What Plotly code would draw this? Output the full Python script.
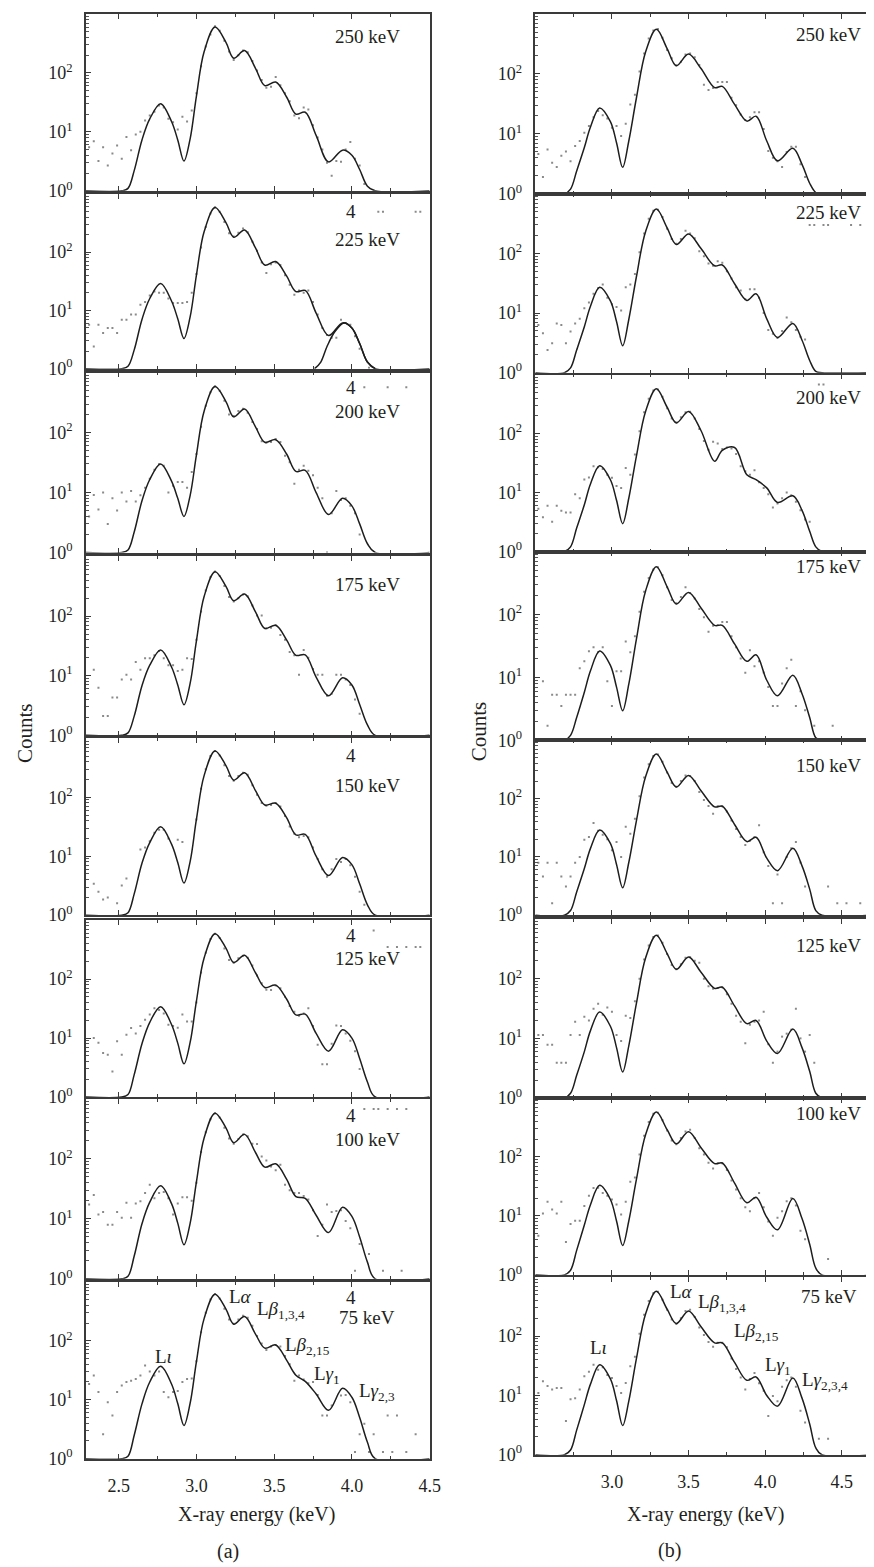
import plotly.graph_objects as go

N = None
W, H = 874, 1567
FONT = "Liberation Serif, Times New Roman, Times, DejaVu Serif, serif"
INK = "#231f20"

ENERGY_LABELS = ["250 keV", "225 keV", "200 keV", "175 keV",
                 "150 keV", "125 keV", "100 keV", "75 keV"]

# ---------------- (a) fitted curve, read at knots (keV, counts) ----------------
FIT_X_A = [2.29, 2.52, 2.56, 2.60, 2.65, 2.70, 2.77, 2.84, 2.88, 2.92, 2.96, 3.00, 3.05, 3.12, 3.19,
           3.24, 3.31, 3.38, 3.44, 3.51, 3.58, 3.64, 3.70, 3.77, 3.85, 3.94, 4.00, 4.05, 4.10, 4.15, 4.50]
fit_a_250 = [1, 1, 1.1, 2.2, 7.3, 16.6, 30, 15, 7.3, 3.2, 7.7, 40, 230, 600, 330,
             178, 240, 120, 61, 70, 39, 20, 21.5, 8.7, 3.1, 4.9, 4.0, 2.3, 1.2, 1, 1]
fit_a_225 = [1, 1, 1.1, 2.1, 7, 16, 29, 14.5, 7.2, 3.3, 7.8, 40, 225, 580, 320,
             180, 240, 118, 60, 69, 39, 21, 22, 9, 3.7, 6.1, 5.0, 2.7, 1.3, 1, 1]
fit_a_200 = [1, 1, 1.1, 2.2, 7.3, 16.5, 30, 15.5, 8, 4.0, 9, 42, 230, 585, 330,
             183, 247, 125, 69, 76, 44, 22.5, 23.5, 10, 4.3, 8.0, 6.0, 3.0, 1.4, 1, 1]
fit_a_175 = [1, 1, 1.1, 2.1, 6.8, 15, 27, 14, 7, 3.25, 7.5, 38, 215, 555, 315,
             181, 234, 118, 62, 70, 40, 22, 22.4, 9.5, 4.6, 9.2, 7.0, 3.3, 1.5, 1, 1]
fit_a_150 = [1, 1, 1.1, 2.3, 7.6, 17, 31.5, 16, 7.8, 3.5, 8.2, 42, 235, 610, 345,
             195, 260, 130, 74, 79, 45, 23, 23.4, 10, 4.7, 9.5, 7.2, 3.4, 1.5, 1, 1]
fit_a_125 = [1, 1, 1.1, 2.4, 8, 18.5, 34, 17, 8.2, 3.65, 8.5, 42, 230, 590, 335,
             191, 253, 128, 72, 79, 46, 24.7, 25.4, 12, 6, 13.8, 10, 4.5, 1.8, 1, 1]
fit_a_100 = [1, 1, 1.1, 2.4, 8.3, 19, 35.7, 18, 8.5, 3.7, 8.5, 41, 225, 580, 330,
             187, 257, 128, 73, 83, 46, 23.6, 22, 11.5, 5.9, 15.6, 11, 5, 1.9, 1, 1]
fit_a_75 = [1, 1, 1.1, 2.5, 8.5, 20, 37, 18.5, 8.6, 3.66, 8.8, 44, 240, 617, 345,
            191, 257, 130, 75, 85, 47, 26, 20.5, 12.5, 6.6, 15.6, 11, 5, 1.9, 1, 1]
# separate L-gamma(2,3) component drawn in the 225 keV panel of (a)
lg23_x_a_225 = [3.76, 3.80, 3.84, 3.89, 3.95, 4.00, 4.05, 4.10, 4.15]
lg23_y_a_225 = [1, 1.3, 2.4, 4.3, 6.1, 5.0, 2.7, 1.3, 1]

# ---------------- (a) measured points ----------------
DOT_X_A = [2.31, 2.34, 2.37, 2.40, 2.43, 2.46, 2.49, 2.52, 2.55, 2.58,
           2.61, 2.64, 2.67, 2.70, 2.73, 2.76, 2.79, 2.82, 2.85, 2.88,
           2.91, 2.94, 2.97, 3.00, 3.03, 3.06, 3.09, 3.12, 3.15, 3.18,
           3.21, 3.24, 3.27, 3.30, 3.33, 3.36, 3.39, 3.42, 3.45, 3.48,
           3.51, 3.54, 3.57, 3.60, 3.63, 3.66, 3.69, 3.72, 3.75, 3.78,
           3.81, 3.84, 3.87, 3.90, 3.93, 3.96, 3.99, 4.02, 4.05, 4.08,
           4.11, 4.14, 4.17, 4.20, 4.23, 4.26, 4.29, 4.32, 4.35, 4.38, 4.41, 4.44, 4.47]
dots_a_250 = [5.5, 6.9, 3.2, 5.5, 2.7, 4.3, 5.9, 3.5, 8.2, 4.9,
              9, 10, 15.6, 19, 22, 28, 26, 16.7, 14.6, 11,
              18, 15, 23, 45, 130, 280, 450, 620, 520, 350,
              230, 165, 200, 240, 225, 160, 110, 76, 56, 58,
              85, 62, 45, 33, 19, 17, 26, 24, 13, 8,
              5, 3.0, 1.8, 3.2, 3.1, 5, 6.7, 3.5, 2.7, 1.3,
              N, N, N, N, N, N, N, N, N, N, N, N, N]
dots_a_225 = [5.7, 2.4, 5.7, 4.1, 5, 5, 4.1, 6.9, 6.9, 8.5,
              8.5, 12.5, 14, 18, 21, 20, 20, 16, 13.4, 13.4,
              13.4, 14, 20, 42, 120, 270, 460, 590, 490, 330,
              210, 185, 215, 255, 220, 150, 105, 66, 44, 62,
              66, 60, 40, 27.5, 18.6, 22, 20, 22, 14, 8.5,
              5, 3.8, 3.4, 3.4, 6.9, 6.1, 5.7, 3.6, 2.2, N,
              1.04, N, 490, 490, N, N, N, N, N, N, 490, 490, N]
dots_a_200 = [4.0, 9.1, 5.2, 10, 3.0, 8, 5, 10, 7.1, 10.6,
              7.1, 9, 12, 17, 24, 30, 28, 10, 13, 15,
              15, 12, 22, 44, 125, 280, 470, 595, 500, 340,
              200, 190, 230, 250, 215, 150, 115, 72, 68, 70,
              78, 70, 41, 32, 14, 24, 28, 23, 19.5, 12,
              8, 1.0, 4.5, 10.6, 7.5, 8, 6, 4.5, 2.0, 570,
              N, N, N, N, 570, N, N, N, 570, N, N, N, N]
dots_a_175 = [N, 12.6, 6.3, 2.1, 2.1, 4.3, 4.3, 8.6, 10.4, 8.6,
              17, 12.6, 19.6, 19.6, 22, 26, 19.6, 15, 15, 12,
              12.6, 19.6, 19, 40, 120, 270, 450, 560, 470, 320,
              210, 175, 200, 230, 215, 150, 102, 102, 62, 64,
              70, 48, 40, 25, 22, 10.4, 27, 20, 13, 10.4,
              10.4, 4.6, 5, 10.4, 10.4, 8.6, 7, 4, 2.3, N,
              N, N, N, N, N, N, N, N, N, N, N, N, N]
dots_a_150 = [N, 3.4, 2.5, 1.85, 2, N, 1.6, 3.2, 4.2, N,
              N, 13, 14, 18, 25, 28, 28, 20, N, 19,
              17.5, N, N, 42, 140, 300, 500, 610, 510, 350,
              230, 190, 230, 260, 240, 160, 110, 80, 72, 74,
              80, 70, 48, 32, 24, 21, 22, 21, 14, 9,
              6, 4.5, 6, 9, 8, 9, 7, 4.5, 2.5, 1.5,
              N, N, N, N, N, N, N, N, N, N, N, N, N]
dots_a_125 = [N, 10, 8.3, 5.6, 5.2, 2.7, 8.8, 5.2, 11.4, 14.8,
              12, 16, 20.4, 25, 32, 30, 26, 16.8, 16, 15,
              25, 19, 19, 40, 130, 280, 480, 590, 500, 330,
              210, 190, 225, 250, 230, 170, 115, 85, 66, 65,
              78, 70, 50, 35, 28, 24, 26, 32, 16, 7.7,
              3.6, 3.6, 8, 16.4, 16, 12, 9, 6, 3, N,
              N, 670, N, N, 350, N, 350, N, 350, N, 350, 350, N]
dots_a_100 = [17.3, 25, 11.8, 13, 8, 8, 13, 10.4, 18.5, 10.4,
              18, 19.6, 27, 37, 22, 27, 28, 22, 11.8, 18,
              23, 23, 20, 40, 130, 280, 460, 580, 490, 330,
              220, 180, 215, 255, 240, 180, 177, 110, 94, 75,
              65, 80, 37, 30, 27, 27, 24, 21, 14, 5.2,
              8, 17.3, 13, 13.5, 14, 9.2, 7, 1.37, 3.8, 680,
              2.6, 680, 680, 1.37, 680, N, 680, 1.37, 680, N, N, N, N]
dots_a_75 = [18.5, 25.7, 13.5, 2.6, 9.1, 5.4, 13.5, 17.4, 20, 21,
             22.5, 25.7, 38, 30, 25.7, 30, 13.5, 11, 13.5, 14,
             20, 22.5, 23, 45, 140, 300, 500, 620, 520, 350,
             230, 195, 230, 265, 245, 180, 120, 90, 70, 80,
             85, 80, 55, 40, 21, 25.7, 22, 19, 20, 12,
             5.4, 5.4, 8, 24, 11.8, 12, 9.1, 1.3, 2.6, 3.9,
             1.3, 2.6, N, 1.3, 5.4, 1.3, 5.4, N, 1.3, N, 2.6, N, N]

# ---------------- (b) fitted curve ----------------
FIT_X_B = [2.50, 2.69, 2.73, 2.77, 2.82, 2.86, 2.92, 2.99, 3.03, 3.07, 3.11, 3.16, 3.22, 3.29, 3.36,
           3.42, 3.50, 3.58, 3.67, 3.72, 3.80, 3.88, 3.94, 4.01, 4.08, 4.18, 4.24, 4.29, 4.33, 4.37, 4.70]
fit_b_250 = [1, 1, 1.2, 2.4, 5.9, 13, 27, 16, 7.1, 2.76, 7.6, 40, 234, 555, 265,
             137, 214, 124, 59, 62, 31, 16.3, 19.7, 7.6, 3.55, 5.75, 3.1, 1.5, 1.05, 1, 1]
fit_b_225 = [1, 1, 1.2, 2.4, 5.9, 13, 27, 16, 7.2, 2.83, 7.8, 41, 234, 555, 268,
             141, 211, 122, 62, 64, 31, 16.3, 21, 8, 3.9, 6.7, 3.5, 1.6, 1.05, 1, 1]
fit_b_200 = [1, 1, 1.2, 2.5, 6.2, 14, 28.5, 16.5, 7.4, 2.97, 8, 42, 240, 575, 280,
             152, 236, 114, 34, 52, 58, 20, 16.5, 12, 6.8, 8.8, 5, 2.2, 1.2, 1, 1]
fit_b_175 = [1, 1, 1.2, 2.3, 5.8, 12.7, 26.3, 15.5, 7, 2.95, 7.8, 41, 238, 574, 275,
             147, 224, 128, 67, 67, 34, 18, 22.8, 9, 5.1, 10.8, 5.5, 2.3, 1.1, 1, 1]
fit_b_150 = [1, 1, 1.2, 2.5, 6.3, 14, 29, 17, 7.4, 2.95, 8, 42, 240, 580, 285,
             158, 250, 138, 72, 74, 36, 18.3, 21.7, 9.5, 5.8, 14.1, 7, 2.8, 1.2, 1, 1]
fit_b_125 = [1, 1, 1.2, 2.4, 6, 13.5, 27.6, 16, 7, 2.73, 7.5, 39, 225, 537, 265,
             144, 231, 130, 69, 72, 35, 17.7, 20, 9, 5.6, 14.3, 7, 2.8, 1.2, 1, 1]
fit_b_100 = [1, 1, 1.2, 2.6, 7, 15.5, 33, 19, 8.2, 3.16, 8.2, 42, 240, 577, 290,
             167, 268, 145, 77, 79, 36, 16.7, 20.7, 9.5, 5.8, 19.7, 9, 3.3, 1.3, 1, 1]
fit_b_75 = [1, 1, 1.2, 2.6, 7, 15.5, 33, 19, 8.2, 3.1, 8, 42, 238, 570, 285,
            163, 265, 145, 77, 77, 36, 18, 20.5, 10, 6.6, 19.7, 9, 3.3, 1.3, 1, 1]

# ---------------- (b) measured points ----------------
DOT_X_B = [2.52, 2.55, 2.58, 2.61, 2.64, 2.67, 2.70, 2.73, 2.76, 2.79,
           2.82, 2.85, 2.88, 2.91, 2.94, 2.97, 3.00, 3.03, 3.06, 3.09,
           3.12, 3.15, 3.18, 3.21, 3.24, 3.27, 3.30, 3.33, 3.36, 3.39,
           3.42, 3.45, 3.48, 3.51, 3.54, 3.57, 3.60, 3.63, 3.66, 3.69,
           3.72, 3.75, 3.78, 3.81, 3.84, 3.87, 3.90, 3.93, 3.96, 3.99,
           4.02, 4.05, 4.08, 4.11, 4.14, 4.17, 4.20, 4.23, 4.26, 4.29,
           4.32, 4.35, 4.38, 4.41, 4.44, 4.47, 4.50, 4.53, 4.56, 4.59, 4.62, 4.65, 4.68]
dots_b_250 = [4.6, 1.9, 5.5, 3.3, 2.8, 4.3, 5.1, 3.5, 6.3, 7.6,
              10.4, 13.5, 19, 24, 20.5, 18, 12.6, 13.5, 9.2, 14.8,
              31, 45, 110, 220, 390, 530, 560, 400, 250, 182,
              140, 160, 210, 220, 190, 141, 66, 54, 58, 73,
              73, 73, 40, 30, 21, 17, 19, 23, 23, 12,
              5.2, 4, 3.5, 2.8, 5, 6.1, 6.1, 3.1, 1.9, N,
              N, N, N, N, N, N, N, N, N, N, N, N, N]
dots_b_225 = [6.3, 4.6, 2.4, 3.1, 6.7, 6.3, 3.1, 4.9, 6.7, 8,
              12, 15, 21, 26, 30, 18, 14, 12.6, 11, 27,
              30, 45, 105, 215, 380, 520, 540, 410, 260, 175,
              145, 175, 240, 215, 180, 109, 90, 68, 62, 74,
              70, 50, 38, 27, 24, 17, 25, 25, 18, 10,
              5.2, 4.5, 3.8, 5, 8.4, 7, 5.2, 4, 3.6, 300,
              300, N, 300, 300, N, N, N, N, 300, N, 300, N, N]
dots_b_200 = [5.3, 3.8, 6, 3.2, 6, 4.9, 4.6, 4.6, 9.4, 8,
              16.7, 18, 28, 27, 25, 20, 17.8, 12.9, 12, 26,
              20, 44, 110, 230, 390, 540, 560, 420, 270, 180,
              155, 190, 230, 235, 180, 120, 75, 53, 73, 68,
              55, 58, 56, 45, 28, 23, 20, 24, 15, 12,
              9.4, 5.6, 6.5, 8, 10, 9, 7, 5, 3.5, 3.2,
              N, 680, 680, N, N, N, N, N, N, N, N, N, N]
dots_b_175 = [N, 8.7, 1.7, 5.3, 5.3, 3.5, 5.3, 5.3, 5.3, 14,
              18, 26, 30, 25, 30, 8.7, 3.5, 12.5, 12.5, 37,
              25, 45, 110, 230, 380, 520, 560, 420, 270, 170,
              150, 190, 270, 220, 180, 122, 90, 53, 66, 68,
              76, 76, 45, 30, 20, 11.8, 27, 15, 18, 12,
              7, 3.5, 3.5, 8, 14, 19, 3.5, 6, 3, N,
              1.7, N, N, N, 1.7, N, N, N, N, N, N, N, N]
dots_b_150 = [7.9, 4.6, 7.9, 1.6, 7.9, 4.6, 3.1, 4.6, 7.9, 10,
              19.6, 22, 38, 28, 24, 20, 13, 18, 10, 33,
              25, 45, 110, 230, 390, 540, 570, 430, 280, 185,
              160, 200, 250, 245, 200, 130, 95, 75, 55, 74,
              74, 60, 42, 30, 22, 16, 19, 22, 35, 12,
              7, 1.6, 5, 1.6, 10, 14, 18, 8, 3.1, N,
              N, N, N, 3.1, N, 1.6, N, 1.6, N, N, 1.6, N, N]
dots_b_125 = [11.4, 11.4, 7.8, 7.8, 3.9, 3.9, 3.9, 11.4, 19, 11.4,
              23, 20, 31.5, 38, 25, 33, 28, 11.4, 9, 24,
              22, 42, 100, 210, 360, 500, 530, 400, 260, 170,
              145, 175, 225, 230, 200, 186, 100, 75, 68, 70,
              72, 55, 38, 24, 19, 8.3, 17, 19, 20, 28,
              8, 3.9, 6, 10.7, 12, 14, 31.5, 10, 6, 11.4,
              3.9, N, N, N, N, N, N, N, N, N, N, N, N]
dots_b_100 = [4.6, 11, 17.4, 12.9, 11, 17.4, 3.6, 7.3, 8.3, 8.3,
              14.7, 22, 29.7, 30, 24.5, 22, 19, 15.6, 10.6, 17.4,
              38, 45, 110, 230, 390, 540, 560, 420, 280, 190,
              165, 210, 270, 290, 210, 140, 110, 80, 64, 78,
              78, 60, 40, 28, 20, 14, 12, 20, 24.5, 14,
              8, 4.6, 9.3, 12, 17.8, 20, 15, 5.6, 4, N,
              N, N, N, 1.85, N, N, N, N, N, N, N, N, N]
dots_b_75 = [11, 17.3, 14.4, 12.6, 13.4, 13.4, 3.7, 8.6, 9, 12.6,
             21, 25, 33, 27, 30, 22, 19.6, 14.4, 11, 16.2,
             31, 45, 110, 230, 390, 530, 560, 410, 280, 190,
             160, 200, 265, 280, 210, 140, 105, 80, 66, 77,
             77, 65, 42, 28, 20, 12.6, 19, 24, 16, 12,
             4.5, 9.8, 8, 14, 18, 20, 14, 5.5, 3.5, N,
             N, 1.85, N, 1.85, N, N, N, N, N, N, N, N, N]

X_TICKS_A = [2.5, 3.0, 3.5, 4.0, 4.5]
X_TICKS_B = [3.0, 3.5, 4.0, 4.5]
Y_TICKS = [1, 10, 100]
Y_TICKTEXT = ["10<sup>0</sup>", "10<sup>1</sup>", "10<sup>2</sup>"]

FITS_A = [fit_a_250, fit_a_225, fit_a_200, fit_a_175, fit_a_150, fit_a_125, fit_a_100, fit_a_75]
DOTS_A = [dots_a_250, dots_a_225, dots_a_200, dots_a_175, dots_a_150, dots_a_125, dots_a_100, dots_a_75]
FITS_B = [fit_b_250, fit_b_225, fit_b_200, fit_b_175, fit_b_150, fit_b_125, fit_b_100, fit_b_75]
DOTS_B = [dots_b_250, dots_b_225, dots_b_200, dots_b_175, dots_b_150, dots_b_125, dots_b_100, dots_b_75]

# ---------------- geometry (pixels) ----------------
TOP_A = [6, 187, 367, 552, 735, 918, 1098, 1282]
BOT_A = [184, 363, 548, 732, 913, 1096, 1279, 1460]
TOP_B = [6, 187, 369, 547, 737, 917, 1097, 1277]
BOT_B = [187, 367, 547, 737, 913, 1097, 1275, 1456]
XPIX_A = (79, 427)
XPIX_B = (534, 874)
XRANGE_A = [2.29, 4.50]
XRANGE_B = [2.50, 4.69]

MINOR_Y = [m * d for d in (1, 10, 100) for m in range(2, 10)]

fig = go.Figure()
layout = {}


def ax_name(kind, n):
    return kind if n == 1 else f"{kind}{n}"


def px_x(p):
    return p / W


def px_y(p):
    return 1 - p / H


for col in range(2):
    for i in range(8):
        n = col * 8 + i + 1
        xr = XRANGE_A if col == 0 else XRANGE_B
        xpix = XPIX_A if col == 0 else XPIX_B
        top = (TOP_A if col == 0 else TOP_B)[i]
        bot = (BOT_A if col == 0 else BOT_B)[i]
        xt = X_TICKS_A if col == 0 else X_TICKS_B
        bottom = (i == 7)
        layout[ax_name("xaxis", n)] = dict(
            domain=[xpix[0] / W, min(1.0, xpix[1] / W)], range=xr, anchor=f"y{n}",
            showline=True, linecolor="#3a3a3a", linewidth=1.5, mirror="ticks",
            ticks="inside", ticklen=5, tickwidth=1, tickcolor="#3a3a3a",
            tickvals=xt, ticktext=[f"{v:.1f}" for v in xt],
            showticklabels=bottom, ticklabelstandoff=10,
            minor=dict(tickvals=[2.75, 3.25, 3.75, 4.25], ticks="inside", ticklen=3,
                       tickcolor="#3a3a3a"),
            showgrid=False, zeroline=False,
            tickfont=dict(family=FONT, size=18, color=INK),
        )
        layout[ax_name("yaxis", n)] = dict(
            domain=[1 - bot / H, 1 - top / H], type="log", range=[0, 3.0], anchor=f"x{n}",
            showline=True, linecolor="#3a3a3a", linewidth=1.5, mirror=(col == 0),
            ticks="inside", ticklen=5, tickwidth=1, tickcolor="#3a3a3a",
            tickvals=Y_TICKS, ticktext=Y_TICKTEXT, ticklabelstandoff=8,
            minor=dict(tickvals=MINOR_Y, ticks="inside", ticklen=3, tickcolor="#555555"),
            showgrid=False, zeroline=False,
            tickfont=dict(family=FONT, size=18, color=INK),
        )
        dx = DOT_X_A if col == 0 else DOT_X_B
        dy = (DOTS_A if col == 0 else DOTS_B)[i]
        fx = FIT_X_A if col == 0 else FIT_X_B
        fy = (FITS_A if col == 0 else FITS_B)[i]
        fig.add_trace(go.Scatter(
            x=dx, y=dy, mode="markers", xaxis=f"x{n}", yaxis=f"y{n}",
            marker=dict(size=2, color="#8a8a8a", symbol="square"),
            showlegend=False, hoverinfo="skip"))
        fig.add_trace(go.Scatter(
            x=fx, y=fy, mode="lines", xaxis=f"x{n}", yaxis=f"y{n}",
            line=dict(color="#1e1e1e", width=1.5, shape="spline", smoothing=1.0),
            showlegend=False, hoverinfo="skip"))
        if col == 0 and i == 1:
            fig.add_trace(go.Scatter(
                x=lg23_x_a_225, y=lg23_y_a_225, mode="lines", xaxis=f"x{n}", yaxis=f"y{n}",
                line=dict(color="#1e1e1e", width=1.5, shape="spline", smoothing=1.0),
                showlegend=False, hoverinfo="skip"))

annotations = []


def text(px, py, s, size=18, xanchor="center", angle=0):
    annotations.append(dict(
        x=px_x(px), y=px_y(py), xref="paper", yref="paper", text=s, showarrow=False,
        xanchor=xanchor, yanchor="middle", textangle=angle,
        font=dict(family=FONT, size=size, color=INK)))


KEV_Y_A = [29, 233, 406, 580, 782, 957, 1139, 1318]
FOUR_Y_A = [None, 205, 382, None, 752, 933, 1115, 1298]
KEV_Y_B = [27, 206, 392, 562, 762, 944, 1113, 1297]
for i in range(8):
    text(364, KEV_Y_A[i], ENERGY_LABELS[i], size=19)
    if FOUR_Y_A[i] is not None:
        text(347, FOUR_Y_A[i], "4", size=19)
    text(831, KEV_Y_B[i], ENERGY_LABELS[i], size=19)

# line identifications (bottom panels)
text(147, 1357, "L<i>ι</i>", 19, "left")
text(222, 1297, "L<i>α</i>", 19, "left")
text(250, 1310, "L<i>β</i><sub>1,3,4</sub>", 19, "left")
text(278, 1347, "L<i>β</i><sub>2,15</sub>", 19, "left")
text(308, 1376, "L<i>γ</i><sub>1</sub>", 19, "left")
text(353, 1393, "L<i>γ</i><sub>2,3</sub>", 19, "left")

text(587, 1348, "L<i>ι</i>", 19, "left")
text(668, 1292, "L<i>α</i>", 19, "left")
text(697, 1303, "L<i>β</i><sub>1,3,4</sub>", 19, "left")
text(733, 1333, "L<i>β</i><sub>2,15</sub>", 19, "left")
text(765, 1367, "L<i>γ</i><sub>1</sub>", 19, "left")
text(802, 1382, "L<i>γ</i><sub>2,3,4</sub>", 19, "left")

# axis titles and panel letters
text(252, 1516, "X-ray energy (keV)", 20)
text(706, 1516, "X-ray energy (keV)", 20)
text(18, 730, "Counts", 21, angle=-90)
text(477, 728, "Counts", 21, angle=-90)
text(223, 1553, "(a)", 20)
text(670, 1552, "(b)", 20)

fig.update_layout(
    width=W, height=H, margin=dict(l=0, r=0, t=0, b=0),
    paper_bgcolor="white", plot_bgcolor="white",
    font=dict(family=FONT, color=INK),
    showlegend=False, annotations=annotations, **layout)

fig.write_html("out.html")
